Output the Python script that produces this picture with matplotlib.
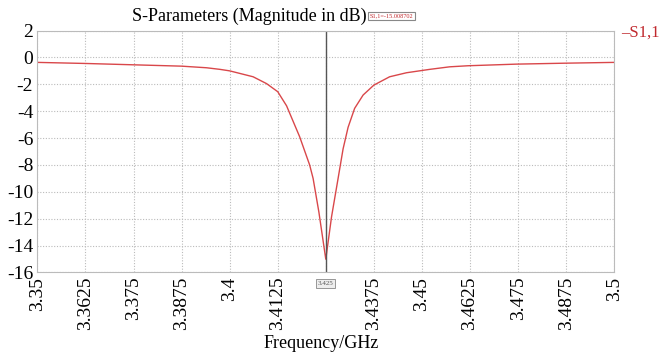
import matplotlib
matplotlib.use("Agg")
import matplotlib.pyplot as plt

# --- S1,1 ---
freq = [3.35, 3.3625, 3.375, 3.3875, 3.394, 3.3975, 3.4, 3.4061, 3.4096,
        3.4125, 3.4148, 3.4182, 3.4208, 3.4217, 3.4232, 3.425, 3.4265,
        3.4282, 3.4295, 3.4308, 3.4325, 3.4347, 3.4375, 3.4416, 3.446,
        3.452, 3.4572, 3.462, 3.4745, 3.4871, 3.5]
s11 = [-0.37, -0.45, -0.55, -0.65, -0.77, -0.89, -1.0, -1.44, -1.95,
       -2.55, -3.6, -5.9, -8.0, -9.0, -11.5, -15.01, -11.85,
       -9.0, -6.8, -5.2, -3.79, -2.8, -2.06, -1.44, -1.14,
       -0.89, -0.70, -0.62, -0.5, -0.43, -0.37]

xticks = [3.35, 3.3625, 3.375, 3.3875, 3.4, 3.4125, 3.425, 3.4375,
          3.45, 3.4625, 3.475, 3.4875, 3.5]
xtick_labels = ['3.35', '3.3625', '3.375', '3.3875', '3.4', '3.4125', '',
                '3.4375', '3.45', '3.4625', '3.475', '3.4875', '3.5']
yticks = [2, 0, -2, -4, -6, -8, -10, -12, -14, -16]

marker_x = 3.425
marker_text = 'S1,1=-15.008702'

plt.rcParams['font.family'] = ['Liberation Serif', 'DejaVu Serif']

fig = plt.figure(figsize=(6.64, 3.55), dpi=100)
ax = fig.add_axes([0.0563, 0.2324, 0.8687, 0.6816])

line_color = '#d9474a'
text_red = '#c0282d'

ax.plot(freq, s11, color=line_color, lw=1.0)
ax.axvline(marker_x, color='#555555', lw=1.0)

ax.set_xlim(3.35, 3.5)
ax.set_ylim(-16, 2)
ax.set_xticks(xticks)
ax.set_xticklabels(xtick_labels, rotation=90, fontsize=14)
ax.set_yticks(yticks)
ax.set_yticklabels([str(v) for v in yticks], fontsize=14)
ax.tick_params(length=0, pad=3)
ax.grid(True, color='#bbbbbb', linestyle=(0, (1, 1.5)), lw=0.8)
for sp in ax.spines.values():
    sp.set_color('#bbbbbb')

fig.text(0.484, 0.02, 'Frequency/GHz', fontsize=13, ha='center', va='baseline')
fig.text(0.375, 0.955, 'S-Parameters (Magnitude in dB)', fontsize=13,
         ha='center', va='center')

# marker readouts
fig.text(0.59, 0.955, marker_text, fontsize=4.5, color=text_red,
         ha='center', va='center',
         bbox=dict(boxstyle='square,pad=0.3', fc='white', ec='#888888', lw=0.8))
ax.text(marker_x, -0.035, '3.425', transform=ax.get_xaxis_transform(),
        fontsize=5, color='#555555', ha='center', va='top',
        bbox=dict(boxstyle='square,pad=0.25', fc='#eeeeee', ec='#888888', lw=0.6))

# legend
fig.text(0.935, 0.907, '\u2013S1,1', fontsize=12, color=text_red,
         ha='left', va='center')

fig.savefig('out.png', dpi=100)
